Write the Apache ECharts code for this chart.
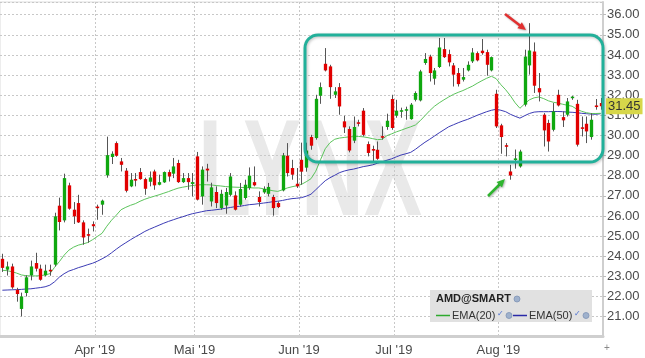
<!DOCTYPE html>
<html><head><meta charset="utf-8">
<script src="https://cdn.jsdelivr.net/npm/echarts/dist/echarts.min.js"></script>
<style>html,body{margin:0;padding:0;background:#fff}#c{width:645px;height:358px}</style>
</head><body><div id="c"></div>
<script>
// trading days per month (2019)
const marchDays = [4,5,6,7,8,11,12,13,14,15,18,19,20,21,22,25,26,27,28,29];
const aprilDays = [1,2,3,4,5,8,9,10,11,12,15,16,17,18,22,23,24,25,26,29,30];
const mayDays   = [1,2,3,6,7,8,9,10,13,14,15,16,17,20,21,22,23,24,28,29,30,31];
const juneDays  = [3,4,5,6,7,10,11,12,13,14,17,18,19,20,21,24,25,26,27,28];
const julyDays  = [1,2,3,5,8,9,10,11,12,15,16,17,18,19,22,23,24,25,26,29,30,31];
const augustDays= [1,2,5,6,7,8,9,12,13,14,15,16,19,20,21,22,23,26,27,28,29,30];

const monthTickDates  = ['2019-04-01','2019-05-01','2019-06-03','2019-07-01','2019-08-01'];
const monthTickLabels = ["Apr '19","Mai '19","Jun '19","Jul '19","Aug '19"];

const opens = [23.87,23.33,23.49,22.33,21.38,22.17,23.05,23.66,23.38,23.05,23.31,23.58,26.51,25.78,27.52,26.31,26.64,25.68,25.09,25.59,
26.46,26.56,28.02,28.93,29.62,28.71,28.25,27.47,27.82,28.18,27.83,27.70,28.21,27.55,27.67,28.18,28.10,28.63,27.68,27.88,27.59,
28.96,26.97,28.35,26.72,27.19,26.39,26.52,27.05,27.02,26.56,26.89,27.39,27.68,26.94,27.17,27.10,26.94,26.64,27.27,28.99,28.38,27.60,
28.79,28.40,29.92,29.87,31.97,33.56,33.43,32.02,32.40,30.70,30.32,29.74,30.64,31.23,29.57,29.31,29.29,29.95,30.42,31.81,
30.98,31.19,31.23,30.81,31.77,31.74,33.60,33.92,32.82,33.40,34.29,34.04,33.48,33.10,32.77,33.23,33.68,34.09,34.21,34.14,33.23,32.07,
30.50,29.50,28.21,28.80,28.46,31.53,33.48,34.17,32.35,31.03,30.62,30.28,32.02,30.91,31.03,31.87,31.57,30.39,30.58,29.92,31.47,31.61];
const highs = [24.12,23.73,23.63,22.43,22.19,23.05,23.78,24.17,23.58,23.58,23.58,26.16,26.91,28.10,27.65,26.69,27.05,25.78,25.37,25.73,
26.56,26.81,29.94,29.21,29.70,28.88,28.38,28.13,28.13,28.38,27.90,28.21,28.30,28.05,28.21,28.30,28.88,28.79,28.13,28.13,28.13,
29.18,28.46,28.59,27.65,27.47,27.30,27.39,28.13,27.22,27.64,27.80,28.41,28.46,27.22,27.47,27.64,27.05,26.72,29.13,29.62,28.79,28.38,
29.64,29.64,30.03,32.02,32.63,34.34,33.51,32.40,32.60,30.98,30.45,30.94,30.78,31.36,29.70,29.49,29.70,30.45,31.08,32.02,
31.77,31.38,31.43,31.61,32.19,33.26,34.09,34.01,33.35,34.84,34.84,34.26,33.60,33.35,33.35,33.68,34.34,34.17,34.79,34.26,33.92,32.27,
30.58,29.62,28.54,29.30,29.29,34.26,35.58,34.62,33.10,31.11,30.78,31.61,32.27,31.19,31.86,31.97,31.77,30.94,30.94,31.11,31.81,31.86];
const lows = [23.22,23.04,22.38,21.74,21.01,22.00,22.80,23.24,22.78,23.00,23.03,23.49,25.28,25.68,26.31,25.60,25.65,24.57,24.67,25.23,
25.81,26.06,27.90,28.58,28.94,28.21,27.17,27.43,27.47,27.80,27.05,27.47,27.30,27.52,27.64,27.71,27.88,27.64,27.64,27.30,26.97,
26.77,26.56,27.71,26.47,26.39,26.31,26.11,26.97,26.27,26.47,26.81,27.30,27.47,26.47,27.10,26.97,26.01,26.39,27.22,27.96,27.80,27.39,
27.55,28.20,29.29,29.79,31.57,33.18,31.82,31.86,31.03,30.12,29.16,29.62,30.45,29.95,28.96,28.71,28.79,29.79,30.28,30.28,
30.88,30.88,30.78,30.78,31.69,31.69,33.51,32.68,32.52,33.35,33.85,33.43,32.43,32.43,32.68,33.18,33.60,33.68,34.01,32.97,33.18,30.37,
29.09,28.96,27.80,28.35,28.40,31.44,33.02,32.11,31.69,29.45,29.20,30.20,31.44,30.42,30.94,31.77,29.45,29.95,29.62,29.79,31.28,31.28];
const closes = [23.42,23.49,22.45,22.12,22.00,22.95,23.49,23.38,22.83,23.28,23.26,25.98,25.70,27.88,26.36,25.98,25.68,24.93,25.02,25.49,
26.39,26.76,29.02,29.09,28.99,28.54,27.25,27.80,27.77,27.83,27.35,27.91,27.52,27.68,28.18,27.96,28.46,27.68,27.88,27.68,27.68,
26.81,28.30,28.26,27.42,26.64,27.10,27.19,27.96,26.31,27.34,27.55,28.00,27.52,26.69,27.34,27.44,26.39,26.44,29.01,28.13,28.05,27.47,
28.20,29.25,29.49,31.82,32.40,33.23,32.40,32.19,31.44,30.40,29.25,30.42,30.59,30.03,29.13,29.26,28.84,29.90,30.73,30.37,
31.23,31.24,31.30,31.53,32.11,33.18,33.80,33.10,33.23,34.37,33.89,33.63,33.02,32.55,32.90,33.51,34.12,33.73,34.09,33.51,33.89,30.45,
29.92,29.45,28.01,28.84,29.20,33.92,34.22,32.47,32.14,30.25,29.70,31.19,31.49,30.75,31.69,31.91,29.54,30.34,30.20,30.78,31.43,31.45];
const ema20 = [23.30,23.28,23.23,23.16,23.07,23.03,23.02,23.02,23.03,23.07,23.13,23.45,23.73,24.05,24.30,24.45,24.55,24.61,24.68,24.82,
24.98,25.14,25.49,25.79,26.04,26.31,26.43,26.53,26.61,26.73,26.83,26.91,26.98,27.05,27.13,27.21,27.30,27.38,27.43,27.47,27.51,
27.54,27.55,27.55,27.54,27.51,27.49,27.46,27.44,27.43,27.42,27.41,27.40,27.39,27.39,27.35,27.30,27.25,27.22,27.30,27.39,27.45,27.50,
27.57,27.70,27.85,28.22,28.79,29.34,29.64,29.81,29.87,29.90,29.93,29.94,29.95,29.93,29.89,29.84,29.79,29.81,29.99,30.08,
30.18,30.26,30.35,30.43,30.52,30.73,30.98,31.23,31.45,31.62,31.77,31.91,32.04,32.14,32.23,32.34,32.45,32.59,32.72,32.84,32.94,32.82,
32.52,32.27,31.97,31.62,31.35,31.57,31.77,31.87,31.91,31.83,31.72,31.65,31.61,31.55,31.50,31.45,31.30,31.20,31.13,31.09,31.09,31.10];
const ema50 = [22.31,22.32,22.33,22.34,22.35,22.37,22.38,22.41,22.44,22.48,22.56,22.73,22.96,23.13,23.26,23.34,23.43,23.50,23.58,23.65,
23.75,23.87,24.00,24.17,24.35,24.52,24.67,24.82,24.96,25.09,25.23,25.34,25.44,25.54,25.64,25.73,25.81,25.89,25.96,26.04,26.11,
26.16,26.21,26.26,26.28,26.31,26.34,26.38,26.42,26.46,26.48,26.52,26.56,26.58,26.61,26.64,26.67,26.71,26.73,26.77,26.82,26.86,26.88,
26.91,26.98,27.08,27.30,27.53,27.75,27.90,28.02,28.15,28.23,28.29,28.33,28.39,28.45,28.49,28.54,28.62,28.69,28.77,28.84,
28.94,29.03,29.09,29.16,29.31,29.49,29.66,29.81,29.97,30.13,30.28,30.43,30.53,30.63,30.72,30.80,30.90,31.00,31.09,31.18,31.25,31.30,
31.25,31.18,31.05,30.95,30.86,30.98,31.09,31.16,31.18,31.18,31.18,31.19,31.19,31.18,31.16,31.15,31.13,31.10,31.08,31.06,31.05,31.08];

const monthBlocks = [['2019-03',marchDays],['2019-04',aprilDays],['2019-05',mayDays],['2019-06',juneDays],['2019-07',julyDays],['2019-08',augustDays]];
const dates = [];
monthBlocks.forEach(([m, ds]) => ds.forEach(d => dates.push(m + '-' + String(d).padStart(2,'0'))));
const candleData = dates.map((d, i) => [i, opens[i], closes[i], lows[i], highs[i]]);
const lastClose = closes[closes.length - 1];

const UP = '#0fa80f', DOWN = '#e10000', WICK = '#555';
const isTick = (idx, val) => monthTickDates.indexOf(val) >= 0;
const FONT = 'Liberation Sans';

function renderCandle(params, api) {
  const i = api.value(0);
  const o = api.value(1), c = api.value(2), l = api.value(3), h = api.value(4);
  const pO = api.coord([i, o]), pC = api.coord([i, c]);
  const pL = api.coord([i, l]), pH = api.coord([i, h]);
  const bw = api.size([1, 0])[0] * 0.7;
  const xc = Math.round(pO[0]) + 0.5;
  let top = Math.min(pO[1], pC[1]);
  let ht = Math.abs(pO[1] - pC[1]);
  if (ht < 1.6) { top -= (1.6 - ht) / 2; ht = 1.6; }
  return {
    type: 'group',
    children: [
      { type: 'line', shape: { x1: xc, y1: pH[1], x2: xc, y2: pL[1] }, style: { stroke: WICK, lineWidth: 1 } },
      { type: 'rect', shape: { x: xc - bw / 2, y: top, width: bw, height: ht }, style: { fill: c >= o ? UP : DOWN } }
    ]
  };
}

const chart = echarts.init(document.getElementById('c'), null, { renderer: 'canvas' });
chart.setOption({
  animation: false,
  backgroundColor: '#fff',
  grid: { left: 0, right: 42, top: 2, bottom: 21.3, show: true, borderColor: '#dcdcdc', borderWidth: 1, outerBoundsMode: 'none' },
  xAxis: {
    type: 'category', data: dates, boundaryGap: true,
    axisLine: { show: true, lineStyle: { color: '#cfcfcf', width: 3 } },
    axisTick: { show: false },
    axisLabel: { interval: isTick, formatter: v => monthTickLabels[monthTickDates.indexOf(v)],
      color: '#4a4a4a', fontSize: 13, fontFamily: FONT, margin: 7, padding: [0, 5, 0, 0] },
    splitLine: { show: true, interval: isTick, lineStyle: { color: '#c8c8c8', type: [2, 2] } }
  },
  yAxis: {
    type: 'value', position: 'right', min: 20, max: 36.63, interval: 1, scale: true,
    axisLine: { show: true, lineStyle: { color: '#cfcfcf', width: 2 } },
    axisTick: { show: true, length: 3, lineStyle: { color: '#bbb' } },
    axisLabel: { showMinLabel: false, showMaxLabel: false, formatter: v => v.toFixed(2),
      color: '#4a4a4a', fontSize: 13, fontFamily: FONT, margin: 4 },
    splitLine: { lineStyle: { color: '#c8c8c8', type: [2, 2] } }
  },
  graphic: [
    { type: 'text', z: -10, left: 198, top: 108, scaleX: 0.63,
      style: { text: 'LYNX', font: 'bold 138px "Liberation Sans"', fill: '#e9e9e9' } },
    { type: 'rect', z: 10, shape: { x: 305, y: 35, width: 298, height: 127, r: 13 },
      style: { fill: 'none', stroke: '#22b09a', lineWidth: 3, shadowBlur: 3, shadowColor: 'rgba(0,0,0,0.25)', shadowOffsetX: 1, shadowOffsetY: 1 } },
    { type: 'polyline', z: 10, shape: { points: [[505, 14], [520, 25.5]] },
      style: { stroke: '#e23030', lineWidth: 2.5, shadowBlur: 2, shadowColor: 'rgba(0,0,0,0.3)', shadowOffsetX: 1, shadowOffsetY: 1 } },
    { type: 'polygon', z: 10, shape: { points: [[526, 30], [517.3, 28.2], [521.9, 22.2]] },
      style: { fill: '#e23030', shadowBlur: 2, shadowColor: 'rgba(0,0,0,0.3)', shadowOffsetX: 1, shadowOffsetY: 1 } },
    { type: 'polyline', z: 10, shape: { points: [[488, 196], [499.5, 184.5]] },
      style: { stroke: '#2fb52f', lineWidth: 2.5, shadowBlur: 2, shadowColor: 'rgba(0,0,0,0.3)', shadowOffsetX: 1, shadowOffsetY: 1 } },
    { type: 'polygon', z: 10, shape: { points: [[505, 179], [502, 187.5], [496.5, 182]] },
      style: { fill: '#2fb52f', shadowBlur: 2, shadowColor: 'rgba(0,0,0,0.3)', shadowOffsetX: 1, shadowOffsetY: 1 } },
    { type: 'rect', z: 10, shape: { x: 430, y: 290, width: 162, height: 32 }, style: { fill: '#e1e1e1' } },
    { type: 'text', z: 11, x: 436, y: 293, style: { text: 'AMD@SMART', font: 'bold 11px "Liberation Sans"', fill: '#222' } },
    { type: 'circle', z: 11, shape: { cx: 517, cy: 299, r: 3 }, style: { fill: '#9fb1cc', stroke: '#7f93b5', lineWidth: 0.8 } },
    { type: 'line', z: 11, shape: { x1: 436, y1: 315.5, x2: 450, y2: 315.5 }, style: { stroke: '#2eaa2e', lineWidth: 1.5 } },
    { type: 'text', z: 11, x: 452, y: 310, style: { text: 'EMA(20)', font: '11px "Liberation Sans"', fill: '#333' } },
    { type: 'text', z: 11, x: 497, y: 310, style: { text: '✓', font: '8px "DejaVu Sans"', fill: '#4a6fd0' } },
    { type: 'circle', z: 11, shape: { cx: 509, cy: 315.5, r: 3 }, style: { fill: '#9fb1cc', stroke: '#7f93b5', lineWidth: 0.8 } },
    { type: 'line', z: 11, shape: { x1: 513, y1: 315.5, x2: 527, y2: 315.5 }, style: { stroke: '#2a2aa8', lineWidth: 1.5 } },
    { type: 'text', z: 11, x: 529, y: 310, style: { text: 'EMA(50)', font: '11px "Liberation Sans"', fill: '#333' } },
    { type: 'text', z: 11, x: 574, y: 310, style: { text: '✓', font: '8px "DejaVu Sans"', fill: '#4a6fd0' } },
    { type: 'circle', z: 11, shape: { cx: 586, cy: 315.5, r: 3 }, style: { fill: '#9fb1cc', stroke: '#7f93b5', lineWidth: 0.8 } },
    { type: 'text', z: 11, x: 604, y: 343, style: { text: '+', font: '10px "Liberation Sans"', fill: '#888' } }
  ],
  series: [
    { type: 'line', name: 'EMA(50)', data: ema50, showSymbol: false, symbol: 'none', z: 3,
      lineStyle: { color: '#3b3bb5', width: 1 } },
    { type: 'line', name: 'EMA(20)', data: ema20, showSymbol: false, symbol: 'none', z: 3,
      lineStyle: { color: '#5cc45c', width: 1 } },
    { type: 'custom', name: 'AMD', data: candleData, renderItem: renderCandle, z: 4,
      encode: { x: 0, y: [1, 2, 3, 4] },
      markLine: { silent: true, symbol: ['none', 'none'], z: 20,
        lineStyle: { color: 'rgba(0,0,0,0)', width: 0, type: 'solid' },
        label: { show: true, position: 'end', distance: 3, formatter: () => lastClose.toFixed(2),
          backgroundColor: '#d7d74a', color: '#333', fontSize: 13, fontFamily: FONT, padding: [2, 2, 1, 2] },
        data: [{ yAxis: lastClose }] } }
  ]
});
</script>
</body></html>
